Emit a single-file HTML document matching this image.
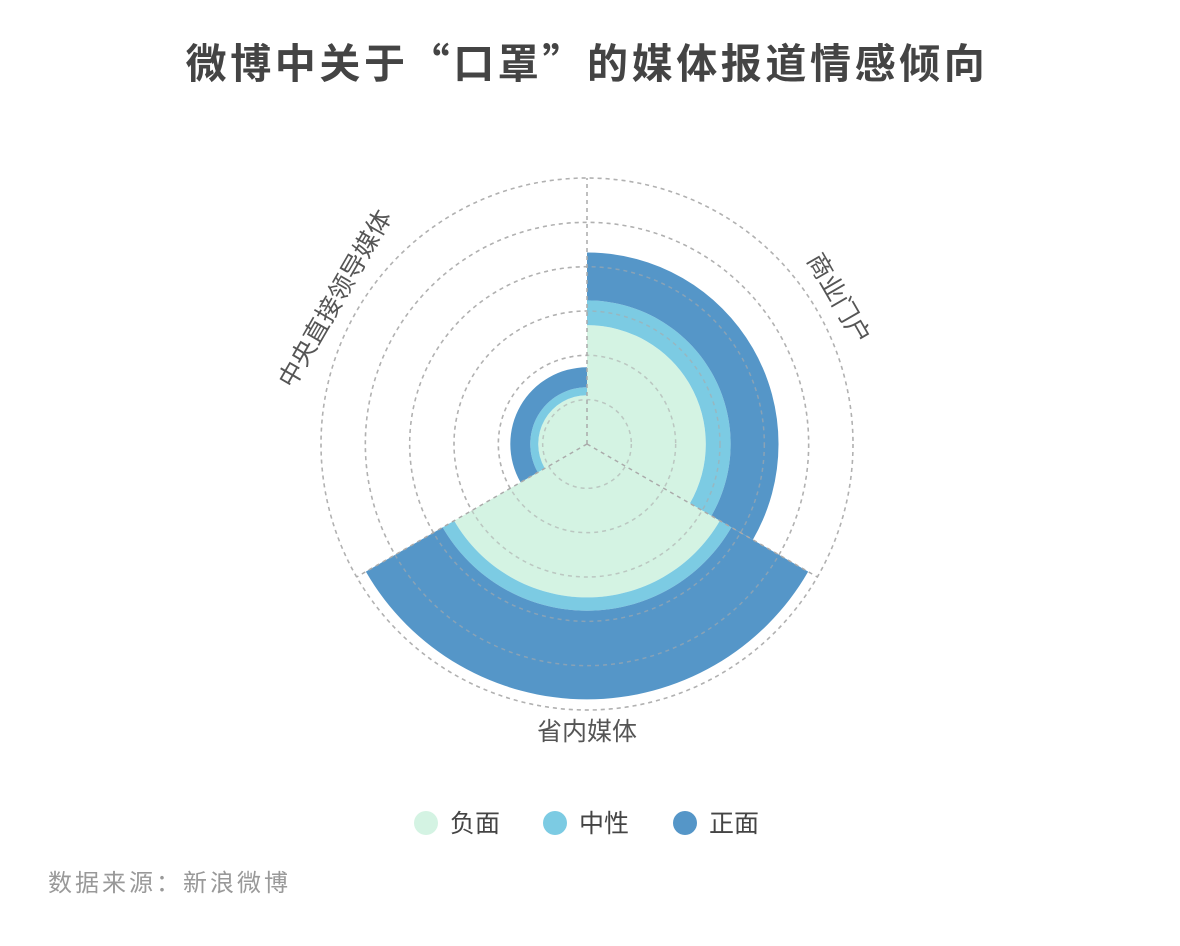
<!DOCTYPE html>
<html><head><meta charset="utf-8">
<style>
body{margin:0;background:#fff;width:1180px;height:946px;overflow:hidden;font-family:"Liberation Sans","Noto Sans CJK SC",sans-serif;}
</style></head><body>
<svg width="1180" height="946" style="position:absolute;left:0;top:0">
<text x="587" y="78" text-anchor="middle" font-size="41" font-weight="bold" fill="#444" letter-spacing="3.6" font-family="Noto Sans CJK SC, sans-serif">微博中关于“口罩”的媒体报道情感倾向</text>
<g id="grid"></g>
<g id="bars"></g>
<g id="labels"></g>
<g id="legend"></g>
<text x="48" y="891" font-size="24" fill="#999" letter-spacing="3" font-family="Noto Sans CJK SC, sans-serif">数据来源：新浪微博</text>
</svg>
<script>
const categories = ["商业门户", "省内媒体", "中央直接领导媒体"];
const seriesNames = ["负面", "中性", "正面"];
const negative = [2680, 3460, 1100];
const neutral = [560, 300, 180];
const positive = [1080, 2000, 450];
const colors = ["#d4f3e3", "#7ccbe3", "#5596c8"];
const maxVal = 6000;
const ringCount = 6;
const cx = 587, cy = 444, R = 266;
const NS = "http://www.w3.org/2000/svg";
function rScale(v){return v / maxVal * R;}
function pt(r, a){const t = a * Math.PI / 180; return [cx + r * Math.sin(t), cy - r * Math.cos(t)];}
function mk(tag, attrs, parent){const e = document.createElementNS(NS, tag); for (const k in attrs) e.setAttribute(k, attrs[k]); parent.appendChild(e); return e;}
const grid = document.getElementById('grid');
for (let i = 1; i <= ringCount; i++) {
  const c = mk('circle', {cx: cx, cy: cy, r: R * i / ringCount, fill: 'none', stroke: '#bbb', 'stroke-dasharray': '4 4', 'stroke-width': 1.5}, grid);
  
  
}
const span = 360 / categories.length;
const bars = document.getElementById('bars');
function sector(r0, r1, a0, a1, fill) {
  const [x0, y0] = pt(r1, a0), [x1, y1] = pt(r1, a1), [x2, y2] = pt(r0, a1), [x3, y3] = pt(r0, a0);
  const large = (a1 - a0) > 180 ? 1 : 0;
  let d = `M${x0},${y0} A${r1},${r1} 0 ${large} 1 ${x1},${y1} `;
  d += r0 > 0 ? `L${x2},${y2} A${r0},${r0} 0 ${large} 0 ${x3},${y3} Z` : `L${cx},${cy} Z`;
  return mk('path', {d: d, fill: fill}, bars);
}
const series = [negative, neutral, positive];
categories.forEach((cat, i) => {
  let acc = 0;
  series.forEach((s, j) => {
    const p = sector(rScale(acc), rScale(acc + s[i]), i * span, (i + 1) * span, colors[j]);
    
    
    acc += s[i];
  });
});
for (let i = 1; i <= ringCount; i++) {
  const c = mk('circle', {cx: cx, cy: cy, r: R * i / ringCount, fill: 'none', stroke: '#aaa', 'stroke-opacity': 0.6, 'stroke-dasharray': '4 4', 'stroke-width': 1.5}, bars);
  
  
}
categories.forEach((cat, i) => {
  const [x, y] = pt(R, i * span);
  const l = mk('line', {x1: cx, y1: cy, x2: x, y2: y, stroke: '#aaa', 'stroke-dasharray': '4 4', 'stroke-width': 1.5}, bars);
  
  
});
const labels = document.getElementById('labels');
categories.forEach((cat, i) => {
  let a = (i + 0.5) * span;
  const [x, y] = pt(289, a);
  let rot = a > 90 && a < 270 ? a - 180 : a;
  const t = mk('text', {x: x, y: y, 'text-anchor': 'middle', 'dominant-baseline': 'middle', 'font-size': 25, fill: '#555', transform: `rotate(${rot},${x},${y})`, 'font-family': 'Noto Sans CJK SC, sans-serif'}, labels);
  t.textContent = cat;
  
  
});
const legend = document.getElementById('legend');
const lx = [426, 555, 685];
seriesNames.forEach((n, j) => {
  const g = mk('g', {}, legend);
  
  
  mk('circle', {cx: lx[j], cy: 823, r: 12, fill: colors[j]}, g);
  const t = mk('text', {x: lx[j] + 24, y: 832, 'font-size': 25, fill: '#444', 'font-family': 'Noto Sans CJK SC, sans-serif'}, g);
  t.textContent = n;
});
</script>
</body></html>
